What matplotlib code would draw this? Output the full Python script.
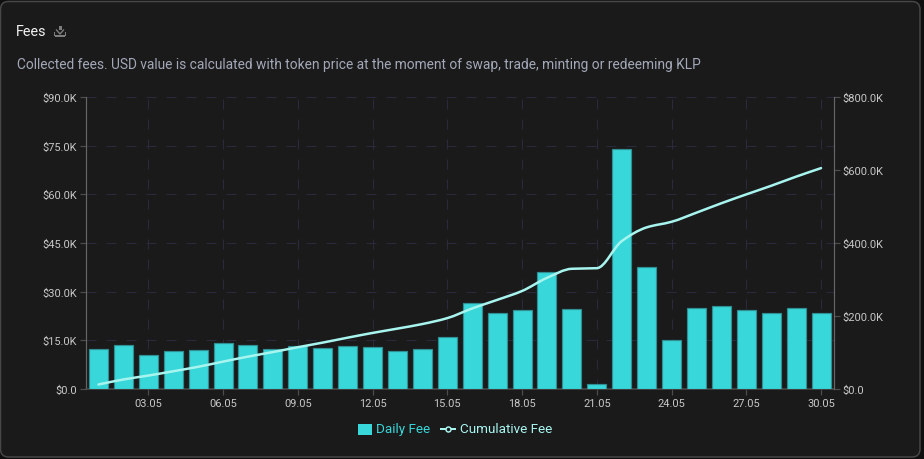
import matplotlib
matplotlib.use('Agg')
import matplotlib.pyplot as plt
from matplotlib.patches import FancyBboxPatch, PathPatch, Rectangle
from matplotlib.path import Path
from matplotlib.lines import Line2D

days = ['%02d.05' % d for d in range(1, 31)]
daily_fee = [12.2, 13.7, 10.6, 11.7, 12.1, 14.1, 13.6, 12.4, 13.1, 12.6,
             13.4, 12.9, 11.8, 12.4, 16.1, 26.4, 23.3, 24.3, 36.0, 24.8,
             1.6, 74.0, 37.7, 15.2, 24.9, 25.7, 24.2, 23.5, 24.9, 23.3]
cumulative_fee = [12.3, 26.1, 36.8, 48.6, 60.8, 75.0, 88.7, 101.2, 114.4, 127.1,
                  140.6, 153.6, 165.5, 178.0, 194.2, 220.7, 244.1, 268.5, 304.5, 329.4,
                  331.0, 405.0, 442.8, 458.1, 483.1, 508.9, 533.2, 556.8, 581.8, 605.2]
left_ticks = [0, 15, 30, 45, 60, 75, 90]
right_ticks = [0, 200, 400, 600, 800]
title = 'Fees'
subtitle = 'Collected fees. USD value is calculated with token price at the moment of swap, trade, minting or redeeming KLP'

W, H = 924, 460
PX = 0.72  # one pixel in points at dpi 100
plt.rcParams['font.family'] = ['Roboto', 'DejaVu Sans']


def money(v):
    return '$%.1fK' % v if v else '$0.0'


def smooth_path(xs, ys):
    # monotone bezier through the points, same look as the original line
    n = len(xs)
    slopes = [ys[i + 1] - ys[i] for i in range(n - 1)]
    m = [slopes[0]]
    for a, b in zip(slopes[:-1], slopes[1:]):
        m.append(2 * a * b / (a + b) if a * b > 0 else 0)
    m.append(slopes[-1])
    verts, codes = [(xs[0], ys[0])], [Path.MOVETO]
    for i in range(n - 1):
        verts += [(xs[i] + 1 / 3, ys[i] + m[i] / 3),
                  (xs[i + 1] - 1 / 3, ys[i + 1] - m[i + 1] / 3),
                  (xs[i + 1], ys[i + 1])]
        codes += [Path.CURVE4] * 3
    return Path(verts, codes)


fig = plt.figure(figsize=(W / 100, H / 100), dpi=100, facecolor='#0f0f0f')

# card behind the chart
bg = fig.add_axes([0, 0, 1, 1])
bg.set_xlim(0, W)
bg.set_ylim(H, 0)
bg.axis('off')
bg.add_patch(FancyBboxPatch((0.5, 2.5), 919.5, 455.5, boxstyle='round,pad=0,rounding_size=8',
                            fc='#1a1a1a', ec='#474747', lw=1.5 * PX))

ax = fig.add_axes([86 / W, 1 - 390 / H, 747.5 / W, 292 / H])
ax.set_facecolor('none')
x = list(range(30))
ax.bar(x, daily_fee, width=0.76, color='#38d7da', edgecolor='#2f8f92', linewidth=1.2 * PX, zorder=3)
ax.set_xlim(-0.5, 29.5)
ax.set_ylim(0, 90)
ax.set_yticks(left_ticks)
ax.set_yticklabels([money(v) for v in left_ticks])
ax.set_xticks(x[2::3])
ax.set_xticklabels(days[2::3])
ax.grid(True, color='#2a2a3c', lw=PX, linestyle=(0, (10, 10)), zorder=0)
ax.set_axisbelow(True)

ax2 = ax.twinx()
ax2.set_ylim(0, 800)
ax2.set_yticks(right_ticks)
ax2.set_yticklabels([money(v) for v in right_ticks])
ax2.set_facecolor('none')
line = PathPatch(smooth_path(x, cumulative_fee), fc='none', ec='#a8f5ef', lw=2.5 * PX, zorder=5, capstyle='round')
ax2.add_patch(line)

for a in (ax, ax2):
    a.tick_params(axis='both', length=6 * PX, width=1.2 * PX, color='#4d4d4d', labelcolor='#c8c8c8',
                  labelsize=7.9, pad=3 * PX)
    for s in a.spines.values():
        s.set_visible(False)
ax.spines['left'].set_visible(True)
ax.spines['left'].set_color('#666666')
ax.spines['left'].set_linewidth(1.2 * PX)
ax.spines['bottom'].set_visible(True)
ax.spines['bottom'].set_color('#4d4d4d')
ax.spines['bottom'].set_linewidth(1.5 * PX)
ax2.spines['right'].set_visible(True)
ax2.spines['right'].set_color('#666666')
ax2.spines['right'].set_linewidth(1.2 * PX)

# header texts
bg.text(16, 31.5, title, color='#f2f2f2', fontsize=10.4, va='center')
bg.text(17, 65, subtitle, color='#a3a8b8', fontsize=9.95, va='center')

# download icon
icon = '#7d7d7d'
bg.add_patch(Rectangle((55, 36), 10, 2, fc=icon))
bg.add_patch(Rectangle((53.5, 33), 1.5, 4, fc=icon))
bg.add_patch(Rectangle((64.5, 33), 1.5, 4, fc=icon))
bg.add_patch(Rectangle((58.5, 27), 3, 4, fc=icon))
bg.plot([56.5, 60, 63.5], [31, 35, 31], color=icon, lw=1)

# legend drawn by hand to keep the spacing of the original
bg.add_patch(Rectangle((358, 424.5), 14, 11, fc='#38d7da', ec='none'))
bg.text(376, 430, 'Daily Fee', color='#38d7da', fontsize=9.7, va='center')
bg.add_line(Line2D([441, 455], [430, 430], color='#a8f5ef', lw=2 * PX))
bg.add_line(Line2D([448], [430], marker='o', ms=5 * PX, mfc='#1a1a1a', mec='#a8f5ef', mew=1.5 * PX))
bg.text(459.5, 430, 'Cumulative Fee', color='#a8f5ef', fontsize=9.7, va='center')

fig.savefig('out.png', dpi=100, facecolor=fig.get_facecolor())
